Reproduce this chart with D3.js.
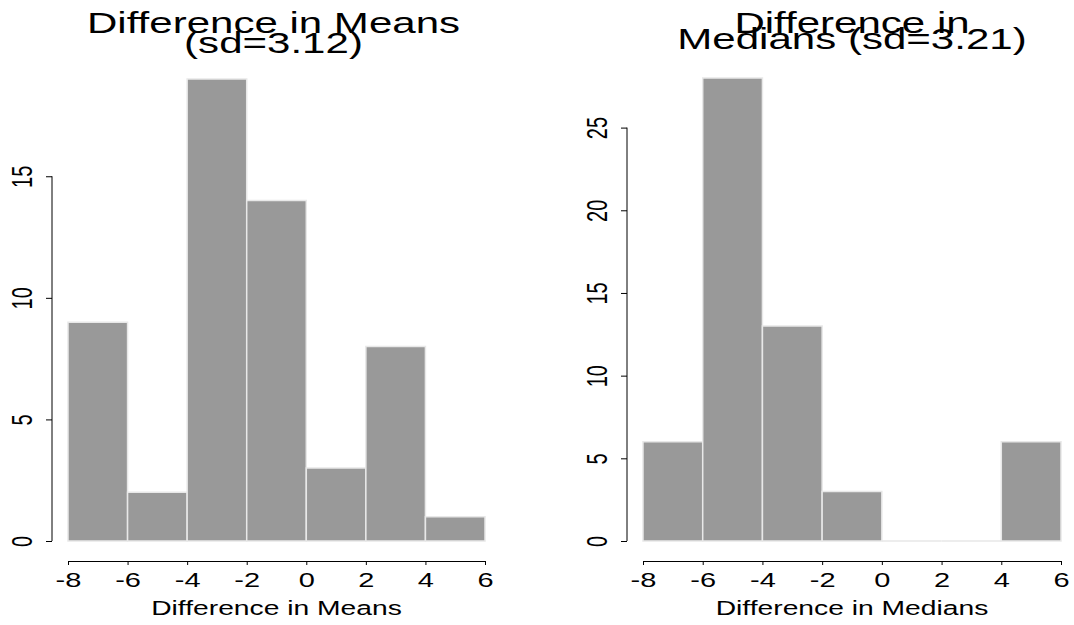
<!DOCTYPE html>
<html>
<head>
<meta charset="utf-8">
<script src="https://cdn.jsdelivr.net/npm/d3@7"></script>
<style>
  body { margin: 0; background: #fff; }
  svg { display: block; font-family: "Liberation Sans", Arial, Helvetica, sans-serif; }
</style>
</head>
<body>
<svg id="chart" width="1074" height="625"></svg>
<script>
// histogram bins (shared by both panels)
const breaks = [-8, -6, -4, -2, 0, 2, 4, 6];
const meanCounts = [9, 2, 19, 14, 3, 8, 1];
const medianCounts = [6, 28, 13, 3, 0, 0, 6];

const xTicks = [-8, -6, -4, -2, 0, 2, 4, 6];
const meanTicksY = [0, 5, 10, 15];
const medianTicksY = [0, 5, 10, 15, 20, 25];

const meanTitle = ["Difference in Means", "(sd=3.12)"];
const medianTitle = ["Difference in", "Medians (sd=3.21)"];
const meanLabel = "Difference in Means";
const medianLabel = "Difference in Medians";

//======================= SET UP SVG =========================
let svg = d3.select("#chart");
// the source picture is stretched sideways, so every text is too
const stretch = 1.45;
// plain hyphen like R, not the unicode minus d3.format gives
const plain = function(d) { return String(d); };

function drawPanel(opt) {
  let g = svg.append("g");

  let x = d3.scaleLinear().domain([breaks[0], breaks[breaks.length - 1]]).range(opt.xRange),
      y = d3.scaleLinear().domain([0, d3.max(opt.counts)]).range(opt.yRange);

  let bins = opt.counts.map(function(c, i) {
    return {x0: breaks[i], x1: breaks[i + 1], count: c};
  });

  //========================== BARS ==============================
  g.selectAll(".bar")
    .data(bins)
    .enter().append("path")
      .attr("class", "bar")
      .attr("d", function(d) {
        return "M" + x(d.x0) + "," + y(0) + "V" + y(d.count) + "H" + x(d.x1) + "V" + y(0) + "Z";
      })
      .style("fill", "#999999")
      .style("stroke", "#e8e8e8")
      .style("stroke-width", 1.5);

  //========================== X AXIS ============================
  let xAxis = g.append("g")
    .attr("transform", "translate(0," + opt.xAxisY + ")")
    .call(d3.axisBottom(x).tickValues(xTicks).tickSizeOuter(0).tickSize(4).tickPadding(0).tickFormat(plain));

  xAxis.select(".domain").style("stroke", "#000").style("stroke-width", 1);
  xAxis.selectAll(".tick line").style("stroke", "#000");
  xAxis.selectAll(".tick text")
    .attr("y", null).attr("dy", null)
    .attr("transform", "translate(0,26) scale(" + stretch + ",1)")
    .style("font-size", "20px")
    .style("fill", "#000")
    .style("font-family", "inherit");

  //========================== Y AXIS ============================
  let yAxis = g.append("g")
    .attr("transform", "translate(" + opt.yAxisX + ",0)")
    .call(d3.axisLeft(y).tickValues(opt.yTicks).tickSizeOuter(0).tickSize(6).tickFormat(plain));

  // R only draws the axis line between the first and last tick
  yAxis.select(".domain").remove();
  yAxis.append("line")
    .attr("y1", y(0))
    .attr("y2", y(d3.max(opt.yTicks)))
    .style("stroke", "#000");
  yAxis.selectAll(".tick line").style("stroke", "#000");
  yAxis.selectAll(".tick text")
    .attr("x", null).attr("dy", null)
    .attr("text-anchor", "middle")
    .attr("transform", "translate(-20,0) scale(" + stretch + ",1) rotate(-90)")
    .style("font-size", "20px")
    .style("fill", "#000")
    .style("font-family", "inherit");

  //========================== TEXTS =============================
  let cx = (opt.xRange[0] + opt.xRange[1]) / 2;

  g.append("text")
    .attr("text-anchor", "middle")
    .attr("transform", "translate(" + cx + ",615) scale(" + stretch + ",1)")
    .style("font-size", "19.5px")
    .text(opt.label);

  opt.title.forEach(function(t, i) {
    g.append("text")
      .attr("text-anchor", "middle")
      .attr("transform", "translate(" + (cx + opt.titleShift) + "," + opt.titleY[i] + ") scale(1.45,1)")
      .style("font-size", "29px")
      .text(t);
  });
}

drawPanel({
  counts: meanCounts, yTicks: meanTicksY, title: meanTitle, label: meanLabel,
  xRange: [68, 485], yRange: [541, 79], xAxisY: 561, yAxisX: 52, titleY: [33, 53], titleShift: -3
});

drawPanel({
  counts: medianCounts, yTicks: medianTicksY, title: medianTitle, label: medianLabel,
  xRange: [643, 1061], yRange: [541, 78], xAxisY: 561, yAxisX: 627, titleY: [33, 48.5], titleShift: 0
});
</script>
</body>
</html>
